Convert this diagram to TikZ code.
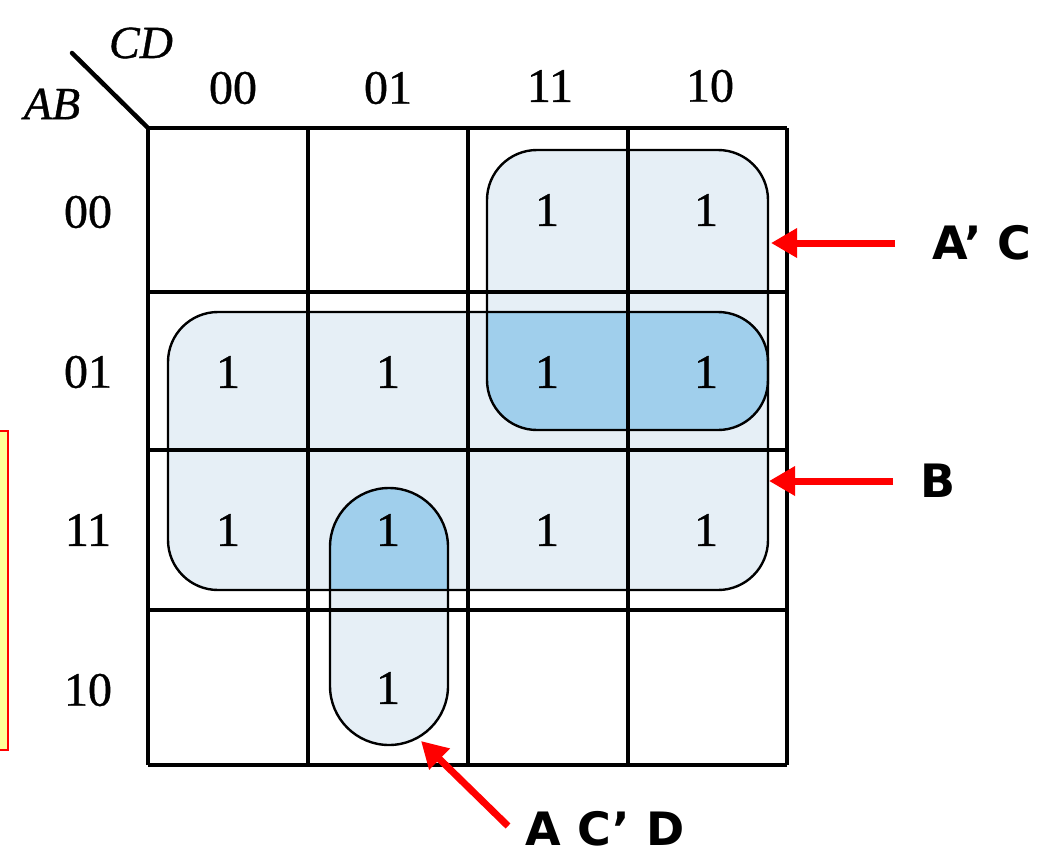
\documentclass[tikz,border=0pt]{standalone}
\usepackage{fontspec}
\setmainfont[FakeBold=0.8]{Liberation Serif}
\newfontfamily\lblfont{DejaVu Sans}
\usetikzlibrary{arrows.meta}
\definecolor{lightgrp}{RGB}{230,239,246}
\definecolor{darkgrp}{RGB}{160,207,236}
\definecolor{boxyellow}{RGB}{255,255,153}
\definecolor{arrred}{RGB}{255,0,0}
\tikzset{
  gridline/.style={line width=3.5pt, black},
  grpline/.style={draw=black, line width=2.4pt, rounded corners=50pt, inner sep=0pt, fill=none},
  digit/.style={font=\fontsize{48}{48}\selectfont, inner sep=0pt},
  varlbl/.style={font=\fontsize{46}{46}\selectfont\itshape, inner sep=0pt},
  termlbl/.style={font=\lblfont\bfseries\fontsize{46}{46}\selectfont, inner sep=0pt},
  redarrow/.style={draw=arrred, line width=7pt, -{Triangle[length=26pt,width=28pt]}}
}
\begin{document}
\begin{tikzpicture}[x=1pt,y=-1pt]
\useasboundingbox (0,0) rectangle (1048,856);
\fill[white] (0,0) rectangle (1048,856);
% yellow box at left edge
\draw[fill=boxyellow, draw=arrred, line width=2pt] (-10,431) rectangle (8,750);
% group fills
\fill[lightgrp, rounded corners=50pt] (487,150) rectangle (768,430);
\fill[lightgrp, rounded corners=50pt] (168,312) rectangle (768,590);
\fill[lightgrp, rounded corners=59pt] (330,488) rectangle (448,745);
% overlaps
\begin{scope}
  \clip[rounded corners=50pt] (487,150) rectangle (768,430);
  \fill[darkgrp, rounded corners=50pt] (168,312) rectangle (768,590);
\end{scope}
\begin{scope}
  \clip[rounded corners=50pt] (168,312) rectangle (768,590);
  \fill[darkgrp, rounded corners=59pt] (330,488) rectangle (448,745);
\end{scope}
% grid
\foreach \x in {148,308,468,628,787} \draw[gridline] (\x,128) -- (\x,765);
\foreach \y in {128,292,450,610,765} \draw[gridline] (148,\y) -- (787,\y);
% corner diagonal
\coordinate (diagA) at (72,53);
\coordinate (diagB) at (148,128);
\draw[line width=4.5pt, line cap=round] (diagA) -- (diagB);
\node[varlbl] (CD) at (141,43) {CD};
\node[varlbl] (AB) at (52,104) {AB};
% column headers
\node[digit] (c00) at (233,88) {00};
\node[digit] (c01) at (388,88) {01};
\node[digit] (c11) at (550,86) {11};
\node[digit] (c10) at (710,86) {10};
% row headers
\node[digit] (r00) at (88,212) {00};
\node[digit] (r01) at (88,372) {01};
\node[digit] (r11) at (88,530) {11};
\node[digit] (r10) at (88,690) {10};
% cell ones
\node[digit] (m2) at (547,210) {1};
\node[digit] (m3) at (706,210) {1};
\node[digit] (m4) at (228,372) {1};
\node[digit] (m5) at (388,372) {1};
\node[digit] (m6) at (547,372) {1};
\node[digit] (m7) at (706,372) {1};
\node[digit] (m12) at (228,530) {1};
\node[digit] (m13) at (388,530) {1};
\node[digit] (m14) at (547,530) {1};
\node[digit] (m15) at (706,530) {1};
\node[digit] (m9) at (388,688) {1};
% group outlines
\node[grpline, minimum width=281pt, minimum height=280pt] (gAC) at (627.5,290) {};
\node[grpline, minimum width=600pt, minimum height=278pt] (gB) at (468,451) {};
\node[grpline, rounded corners=59pt, minimum width=118pt, minimum height=257pt] (gACD) at (389,616.5) {};
% term labels
\node[termlbl] (tAC) at (982,243) {A’ C};
\node[termlbl] (tB) at (938,481) {B};
\node[termlbl] (tACD) at (605,829) {A C’ D};
\coordinate (hAC) at (771,243);
\coordinate (hB) at (769,481);
\coordinate (hACD) at (421,741);
\coordinate (sAC) at (895,243);
\coordinate (sB) at (893,481);
\coordinate (sACD) at (508,826);
\draw[redarrow] (sAC) -- (hAC);
\draw[redarrow] (sB) -- (hB);
\draw[redarrow] (sACD) -- (hACD);
\end{tikzpicture}
\end{document}
